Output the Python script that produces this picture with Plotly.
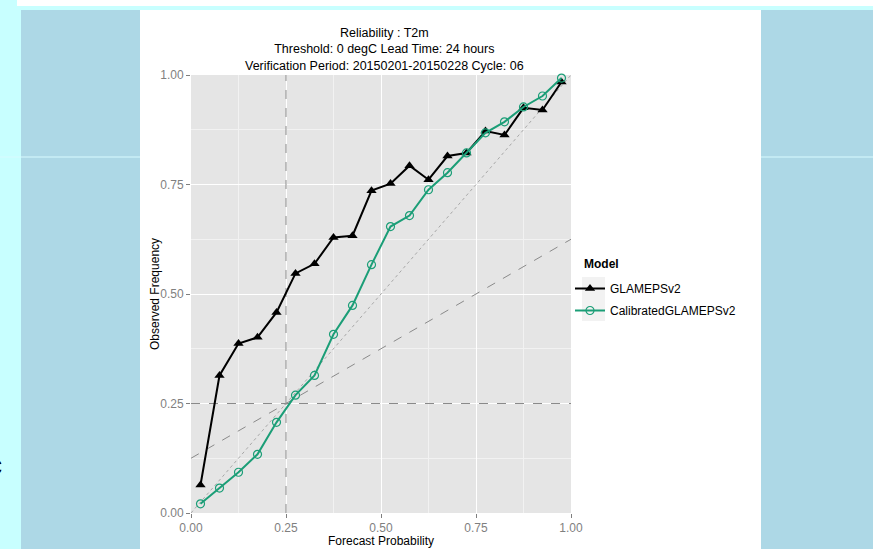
import plotly.graph_objects as go

W, H = 873, 549

# Reliability diagram data: forecast probability bins and observed frequencies
prob_bins = [0.025, 0.075, 0.125, 0.175, 0.225, 0.275, 0.325, 0.375, 0.425, 0.475,
             0.525, 0.575, 0.625, 0.675, 0.725, 0.775, 0.825, 0.875, 0.925, 0.975]
obs_glameps = [0.064, 0.314, 0.387, 0.401, 0.458, 0.547, 0.569, 0.629, 0.633, 0.736,
               0.752, 0.793, 0.761, 0.815, 0.822, 0.872, 0.863, 0.925, 0.920, 0.984]
obs_calibrated = [0.021, 0.057, 0.093, 0.134, 0.207, 0.269, 0.314, 0.408, 0.474, 0.567,
                  0.654, 0.679, 0.738, 0.777, 0.822, 0.868, 0.893, 0.927, 0.952, 0.993]
base_rate = 0.25
tick_vals = [0.0, 0.25, 0.5, 0.75, 1.0]
tick_text = ["0.00", "0.25", "0.50", "0.75", "1.00"]

FONT = "Liberation Sans, Arial, sans-serif"
GREEN = "#1B9E77"

# panel box in pixels
PX0, PX1, PY0, PY1 = 191, 571, 75, 513


def px_x(p):
    return p / W


def px_y(p):
    return 1 - p / H


fig = go.Figure()

# reference lines: climatology, perfect reliability, no-skill
fig.add_trace(go.Scatter(x=[base_rate, base_rate], y=[0, 1], mode="lines",
                         line=dict(color="#8a8a8a", width=1, dash="dash"),
                         showlegend=False, hoverinfo="skip"))
fig.add_trace(go.Scatter(x=[0, 1], y=[base_rate, base_rate], mode="lines",
                         line=dict(color="#8a8a8a", width=1, dash="dash"),
                         showlegend=False, hoverinfo="skip"))
fig.add_trace(go.Scatter(x=[0, 1], y=[0, 1], mode="lines",
                         line=dict(color="#a8a8a8", width=1, dash="dot"),
                         showlegend=False, hoverinfo="skip"))
fig.add_trace(go.Scatter(x=[0, 1], y=[base_rate / 2, (1 + base_rate) / 2], mode="lines",
                         line=dict(color="#8a8a8a", width=1, dash="dash"),
                         showlegend=False, hoverinfo="skip"))

fig.add_trace(go.Scatter(x=prob_bins, y=obs_glameps, mode="lines+markers",
                         name="GLAMEPSv2", legendgroup="g1", cliponaxis=False,
                         line=dict(color="black", width=2),
                         marker=dict(symbol="triangle-up", size=9, color="black")))
fig.add_trace(go.Scatter(x=prob_bins, y=obs_calibrated, mode="lines+markers",
                         name="CalibratedGLAMEPSv2", legendgroup="g2", cliponaxis=False,
                         line=dict(color=GREEN, width=2),
                         marker=dict(symbol="circle-open", size=8, color=GREEN,
                                     line=dict(width=1.2, color=GREEN))))

shapes = [
    # light blue side band, white chart panel and grey plotting panel
    dict(type="rect", xref="paper", yref="paper", layer="below",
         x0=px_x(21), x1=px_x(W), y0=px_y(H), y1=px_y(10),
         fillcolor="#ADD8E6", line=dict(width=0)),
    dict(type="rect", xref="paper", yref="paper", layer="below",
         x0=px_x(17), x1=px_x(W), y0=px_y(6), y1=px_y(0),
         fillcolor="white", line=dict(width=0)),
    dict(type="line", xref="paper", yref="paper", layer="below",
         x0=0, x1=1, y0=px_y(157), y1=px_y(157),
         line=dict(color="#D8FBFF", width=1)),
    dict(type="rect", xref="paper", yref="paper", layer="below",
         x0=px_x(140), x1=px_x(761), y0=px_y(H), y1=px_y(10),
         fillcolor="white", line=dict(width=0)),
    dict(type="rect", xref="paper", yref="paper", layer="below",
         x0=px_x(PX0), x1=px_x(PX1), y0=px_y(PY1), y1=px_y(PY0),
         fillcolor="#E5E5E5", line=dict(width=0)),
    # legend key backgrounds
    dict(type="rect", xref="paper", yref="paper", layer="below",
         x0=px_x(582), x1=px_x(605), y0=px_y(299), y1=px_y(277),
         fillcolor="#F2F2F2", line=dict(width=0)),
    dict(type="rect", xref="paper", yref="paper", layer="below",
         x0=px_x(582), x1=px_x(605), y0=px_y(321), y1=px_y(299),
         fillcolor="#F2F2F2", line=dict(width=0)),
]

annotations = [
    dict(text="Reliability : T2m<br>Threshold: 0 degC Lead Time: 24 hours<br>"
              "Verification Period: 20150201-20150228 Cycle: 06",
         xref="paper", yref="paper", x=px_x(384), y=px_y(75), xanchor="center",
         yanchor="bottom", showarrow=False, align="center",
         font=dict(family=FONT, size=12.5, color="black")),
    dict(text="Forecast Probability", xref="paper", yref="paper",
         x=px_x(381), y=px_y(541), xanchor="center", yanchor="middle",
         showarrow=False, font=dict(family=FONT, size=12, color="black")),
    dict(text="Observed Frequency", xref="paper", yref="paper",
         x=px_x(155), y=px_y(294), xanchor="center", yanchor="middle",
         textangle=-90, showarrow=False,
         font=dict(family=FONT, size=12, color="black")),
    dict(text="<b>Model</b>", xref="paper", yref="paper",
         x=px_x(582), y=px_y(264), xanchor="left", yanchor="middle",
         showarrow=False, font=dict(family=FONT, size=12, color="black")),
    dict(text="c", xref="paper", yref="paper", x=px_x(4), y=px_y(465),
         xanchor="right", yanchor="middle", showarrow=False,
         font=dict(family=FONT, size=26, color="black")),
]

axis_common = dict(
    range=[0, 1], tickvals=tick_vals, ticktext=tick_text,
    ticks="outside", ticklen=4, tickcolor="#7f7f7f", tickwidth=1,
    tickfont=dict(family=FONT, size=12, color="#7f7f7f"),
    showgrid=True, gridcolor="white", gridwidth=1.2,
    zeroline=False, showline=False, fixedrange=True, automargin=False,
    minor=dict(tick0=0.125, dtick=0.25, showgrid=True, gridcolor="#F2F2F2",
               gridwidth=0.6, ticks=""),
)

fig.update_layout(
    width=W, height=H,
    margin=dict(l=0, r=0, t=0, b=0, autoexpand=False),
    paper_bgcolor="#C8FFFF",
    plot_bgcolor="#E5E5E5",
    font=dict(family=FONT, size=12, color="black"),
    xaxis=dict(domain=[px_x(PX0), px_x(PX1)], **axis_common),
    yaxis=dict(domain=[px_y(PY1), px_y(PY0)], **axis_common),
    legend=dict(x=px_x(570), y=px_y(274), xanchor="left", yanchor="top",
                bgcolor="rgba(0,0,0,0)", borderwidth=0,
                font=dict(family=FONT, size=12, color="black"),
                itemwidth=30, tracegroupgap=3),
    shapes=shapes,
    annotations=annotations,
    showlegend=True,
)

fig.write_html("out.html")
